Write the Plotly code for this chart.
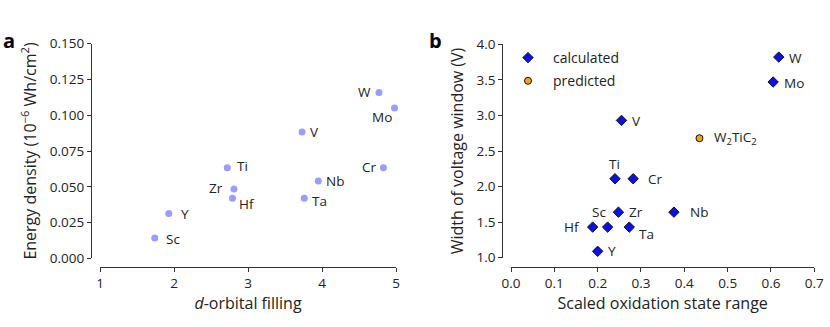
import plotly.graph_objects as go

# ── panel a: energy density vs d-orbital filling ──────────────────────────
a_elem   = ["W", "Mo", "V", "Ti", "Cr", "Nb", "Zr", "Hf", "Ta", "Y", "Sc"]
a_dfill  = [4.77, 4.98, 3.73, 2.72, 4.83, 3.95, 2.81, 2.79, 3.76, 1.93, 1.74]
a_energy = [0.1159, 0.105, 0.0882, 0.0633, 0.0633, 0.054, 0.0484, 0.0419, 0.0419, 0.0314, 0.0142]

# ── panel b: voltage window vs scaled oxidation state range ───────────────
b_elem  = ["W", "Mo", "V", "Ti", "Cr", "Zr", "Nb", "Hf", "Sc", "Ta", "Y"]
b_ox    = [0.618, 0.605, 0.255, 0.240, 0.282, 0.248, 0.376, 0.1885, 0.223, 0.273, 0.200]
b_volt  = [3.82, 3.47, 2.93, 2.11, 2.11, 1.64, 1.64, 1.43, 1.43, 1.43, 1.09]

pred_name = ["W<sub>2</sub>TiC<sub>2</sub>"]
pred_ox   = [0.435]
pred_volt = [2.68]

# label offsets (px, right / down) for each element
a_off = {"W": (-14, 0), "Mo": (-13, 9), "V": (12, 0), "Ti": (15, -2), "Cr": (-14, -1),
         "Nb": (17, 0), "Zr": (-18, -1), "Hf": (15, 6), "Ta": (15, 3), "Y": (16, 1),
         "Sc": (18, 1)}
b_off = {"W": (17, 1), "Mo": (21, 1), "V": (15, 1), "Ti": (0, -15), "Cr": (22, 0),
         "Zr": (18, 0), "Nb": (25, 0), "Hf": (-21, 0), "Sc": (-9, -15), "Ta": (17, 7),
         "Y": (14, 0)}

FONT = "Open Sans"
TXT  = "#222"
W, H = 830, 327
LBL  = 13.5

fig = go.Figure()

fig.add_trace(go.Scatter(x=a_dfill, y=a_energy, mode="markers", showlegend=False,
                         marker=dict(color="#9a9cff", size=7),
                         xaxis="x", yaxis="y", cliponaxis=False))

fig.add_trace(go.Scatter(x=b_ox, y=b_volt, mode="markers", name="calculated",
                         legendgroup="c",
                         marker=dict(symbol="diamond", color="#0a10e8", size=8,
                                     line=dict(color="#111", width=1)),
                         xaxis="x2", yaxis="y2", cliponaxis=False))
fig.add_trace(go.Scatter(x=pred_ox, y=pred_volt, mode="markers", name="predicted",
                         legendgroup="p",
                         marker=dict(symbol="circle", color="#f5a31a", size=7,
                                     line=dict(color="#111", width=1)),
                         xaxis="x2", yaxis="y2", cliponaxis=False))

ann = []
for el, x, y in zip(a_elem, a_dfill, a_energy):
    dx, dy = a_off[el]
    ann.append(dict(x=x, y=y, xref="x", yref="y", text=el, showarrow=False,
                    xshift=dx, yshift=-dy, font=dict(size=LBL, color=TXT)))
for el, x, y in zip(b_elem, b_ox, b_volt):
    dx, dy = b_off[el]
    ann.append(dict(x=x, y=y, xref="x2", yref="y2", text=el, showarrow=False,
                    xshift=dx, yshift=-dy, font=dict(size=LBL, color=TXT)))
for el, x, y in zip(pred_name, pred_ox, pred_volt):
    ann.append(dict(x=x, y=y, xref="x2", yref="y2", text=el, showarrow=False,
                    xanchor="left", xshift=13, font=dict(size=LBL, color=TXT)))

ann.append(dict(x=1 / W, y=1 - 25 / H, xref="paper", yref="paper", text="<b>a</b>",
                showarrow=False, xanchor="left", font=dict(size=20, color="#000")))
ann.append(dict(x=427 / W, y=1 - 25 / H, xref="paper", yref="paper", text="<b>b</b>",
                showarrow=False, xanchor="left", font=dict(size=20, color="#000")))

axis_common = dict(showline=True, linecolor="#333", linewidth=1, ticks="outside",
                   ticklen=4, tickcolor="#333", showgrid=False, zeroline=False,
                   automargin=False,
                   tickfont=dict(size=13.5, color=TXT), title_font=dict(size=16, color=TXT))

fig.update_layout(
    width=W, height=H, margin=dict(l=0, r=0, t=0, b=0, autoexpand=False),
    paper_bgcolor="white", plot_bgcolor="white",
    font=dict(family=FONT, color=TXT),
    annotations=ann,
    xaxis=dict(axis_common, domain=[100 / W, 396 / W], range=[1, 5],
               tickvals=[1, 2, 3, 4, 5], anchor="free", position=(H - 266.7) / H,
               title=dict(text="<i>d</i>-orbital filling", standoff=3)),
    yaxis=dict(axis_common, domain=[(H - 258.3) / H, (H - 43.7) / H], range=[0, 0.15],
               tickvals=[0, 0.025, 0.05, 0.075, 0.1, 0.125, 0.15], tickformat=".3f",
               anchor="free", position=91 / W,
               title=dict(text="Energy density (10<sup>−6</sup> Wh/cm<sup>2</sup>)", standoff=8)),
    xaxis2=dict(axis_common, domain=[511 / W, 814.3 / W], range=[0, 0.7],
                tickvals=[0, 0.1, 0.2, 0.3, 0.4, 0.5, 0.6, 0.7], tickformat=".1f",
                anchor="free", position=(H - 266.7) / H,
                title=dict(text="Scaled oxidation state range", standoff=3)),
    yaxis2=dict(axis_common, domain=[(H - 257.7) / H, (H - 44.3) / H], range=[1, 4],
                tickvals=[1, 1.5, 2, 2.5, 3, 3.5, 4], tickformat=".1f",
                anchor="free", position=502.3 / W,
                title=dict(text="Width of voltage window (V)", standoff=8)),
    legend=dict(x=503 / W, y=1 - 42 / H, xanchor="left", yanchor="top",
                bgcolor="rgba(0,0,0,0)", font=dict(size=14, color=TXT),
                tracegroupgap=2, itemwidth=40),
)

# page body has a default 8px margin; drop it so the figure sits at the window origin
fig.write_html("out.html", config={"displayModeBar": False},
               post_script="document.body.style.margin='0';")
